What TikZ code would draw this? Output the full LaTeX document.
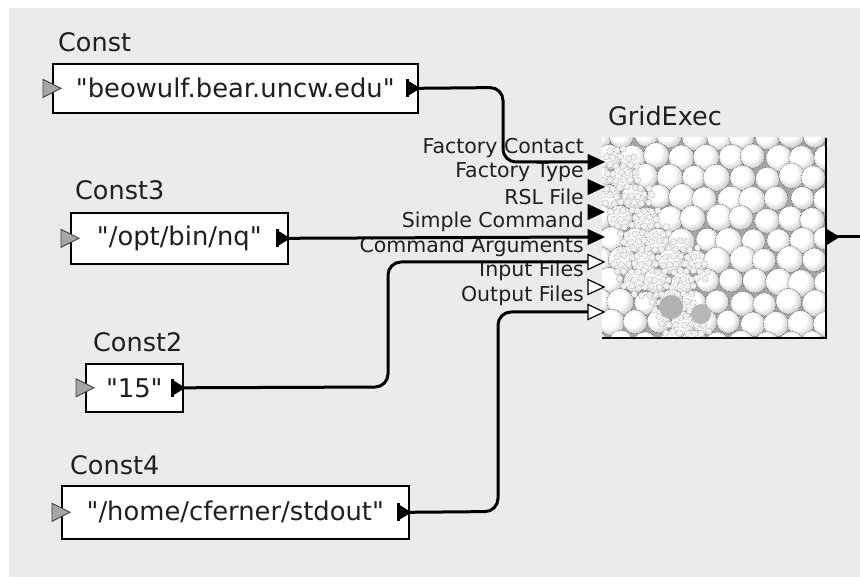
\documentclass[tikz,border=0pt]{standalone}
\usepackage{fontspec}
% plain family: no TeX ligature mapping, so " stays a straight quote
\newfontfamily\uifont{DejaVu Sans}
\usetikzlibrary{calc}

% shaded foam cell for the GridExec icon
\pgfdeclareradialshading{bubble}{\pgfpoint{-9bp}{9bp}}{%
  color(0bp)=(white); color(16bp)=(white); color(30bp)=(black!22);
  color(42bp)=(black!40); color(50bp)=(black!55)}

\tikzset{
  x=1pt, y=-1pt,
  title/.style={anchor=base west, inner sep=0pt, font=\uifont\fontsize{25.5}{30}\selectfont, text=black!88},
  valbox/.style={draw=black, line width=1.6pt, fill=white, anchor=north west,
    inner sep=0pt, font=\uifont\fontsize{25.8}{30}\selectfont, text=black!88},
  portlabel/.style={anchor=east, inner sep=0pt, font=\uifont\fontsize{20.5}{24}\selectfont, text=black!88},
  wire/.style={draw=black, line width=3pt, rounded corners=13pt},
  inport/.style={fill=black!35, draw=black!75, line width=0.9pt},
  outport/.style={fill=black, draw=black, line width=0.8pt},
  blackport/.style={fill=black, draw=black, line width=0.8pt},
  whiteport/.style={fill=white, draw=black, line width=1.2pt},
  cell/.style={draw=black!70, line width=0.6pt, densely dotted},
  grain/.style={fill=black!6, draw=black!55, line width=0.45pt, densely dotted},
}

\begin{document}
\begin{tikzpicture}
\useasboundingbox (0,0) rectangle (860,577);
\fill[white] (0,0) rectangle (860,577);
\fill[black!8] (9,8) rectangle (860,577);

% ---------- constant sources ----------
\node[title] (t1) at (58,52) {Const};
\node[valbox, minimum width=365pt, minimum height=49pt] (c1) at (52,63) {"beowulf.bear.uncw.edu"};

\node[title] (t3) at (75,200) {Const3};
\node[valbox, minimum width=217pt, minimum height=51pt] (c3) at (70,212) {"/opt/bin/nq"};

\node[title] (t2) at (93,352) {Const2};
\node[valbox, minimum width=97pt, minimum height=48pt] (c2) at (85,363) {"15"};

\node[title] (t4) at (70,475) {Const4};
\node[valbox, minimum width=347pt, minimum height=53pt] (c4) at (61,485) {"/home/cferner/stdout"};

% input / output ports on the constant boxes
\foreach \b in {c1,c3,c2,c4}{
  \path[inport] ($(\b.west)+(-9,-9)$) -- ($(\b.west)+(9,0)$) -- ($(\b.west)+(-9,9)$) -- cycle;
  \path[outport] ($(\b.east)+(-12,-8)$) -- ($(\b.east)+(1,0)$) -- ($(\b.east)+(-12,8)$) -- cycle;
  \fill[black] ($(\b.east)+(-13,-9)$) rectangle ($(\b.east)+(-10,9)$);
}

% ---------- GridExec ----------
\node[title] (tg) at (608,126) {GridExec};
\node[draw=none, fill=none, anchor=north west, minimum width=224pt, minimum height=200pt, inner sep=0pt] (g) at (602,138) {};

\begin{scope}
  \clip (602,138) rectangle (826,338);
  \fill[black!35] (602,138) rectangle (826,338);
  \pgfmathsetseed{11}
  % large foam cells
  \foreach \r in {0,...,10}{
    \foreach \c in {0,...,10}{
      \pgfmathsetmacro\xx{598 + \c*24 + mod(\r,2)*12 + rand*2}
      \pgfmathsetmacro\yy{136 + \r*20.8 + rand*2}
      \pgfmathsetmacro\rr{12.6 + rand*1.0}
      \shade[shading=bubble] (\xx,\yy) circle (\rr);
      \draw[cell] (\xx,\yy) circle (\rr);
    }
  }
  % fine grainy band running down from the upper left
  \foreach \r in {0,...,24}{
    \foreach \c in {0,...,26}{
      \pgfmathsetmacro\xx{603 + \c*7 + mod(\r,2)*3.5 + rand*1.2}
      \pgfmathsetmacro\yy{150 + \r*7.6 + rand*1.2}
      % distance from the band axis (615,170)-(690,340) and a blob near (660,268)
      \pgfmathsetmacro\t{max(0,min(1,((\xx-615)*0.75+(\yy-170)*1.7)/345.25))}
      \pgfmathsetmacro\dx{(\xx-(615+75*\t))/24}
      \pgfmathsetmacro\dy{(\yy-(170+170*\t))/24}
      \pgfmathsetmacro\dd{min(\dx*\dx+\dy*\dy, ((\xx-660)/48)^2+((\yy-268)/34)^2)}
      \ifdim\dd pt<1pt
        \filldraw[grain] (\xx,\yy) circle (3.3);
      \fi
    }
  }
  \fill[black!30] (671,307) circle (12);
  \fill[black!28] (701,314) circle (10);
\end{scope}
\draw[black, line width=1.6pt] (602,338) -- (826,338) -- (826,138);

% port labels
\foreach \lab [count=\i from 0] in {Factory Contact,Factory Type,RSL File,Simple Command,Command Arguments,Input Files,Output Files}{
  \node[portlabel] (l\i) at (584,{148+24.6*\i}) {\lab};
}

% port positions on the GridExec box
\foreach \i in {1,...,7}{
  \coordinate (p\i) at (588,{137+25*\i});
}
\foreach \i in {1,...,4}{
  \path[blackport] ($(p\i)+(0,-7.5)$) -- ($(p\i)+(16,0)$) -- ($(p\i)+(0,7.5)$) -- cycle;
}
\foreach \i in {5,...,7}{
  \path[whiteport] ($(p\i)+(0,-7.5)$) -- ($(p\i)+(16,0)$) -- ($(p\i)+(0,7.5)$) -- cycle;
}
% output port
\coordinate (gout) at (826,237);
\coordinate (outend) at (860,237);
\path[outport] ($(gout)+(0,-8)$) -- ($(gout)+(13,0)$) -- ($(gout)+(0,8)$) -- cycle;

% ---------- connectors ----------
\draw[wire] (c1.east) -- (503,87.5) -- (503,162) -- (p1);
\draw[wire, rounded corners=0pt] (c3.east) -- (p4);
\draw[wire] (c2.east) -- (388,387) -- (388,262) -- (p5);
\draw[wire] (c4.east) -- (498,511.5) -- (498,312) -- (p7);
\draw[wire, rounded corners=0pt] (gout) -- (outend);
\end{tikzpicture}
\end{document}
